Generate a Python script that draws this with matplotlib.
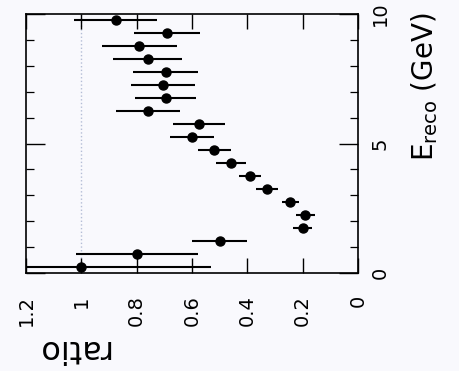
import numpy as np
import matplotlib
matplotlib.use("Agg")
import matplotlib.pyplot as plt
from matplotlib.ticker import MultipleLocator

# Reconstructed energy bin centres (GeV), 0.5 GeV wide bins
energy = [0.25, 0.75, 1.25, 1.75, 2.25, 2.75, 3.25, 3.75, 4.25, 4.75,
          5.25, 5.75, 6.25, 6.75, 7.25, 7.75, 8.25, 8.75, 9.25, 9.75]

# Ratio in each bin and its statistical error
ratio = [1.00, 0.80, 0.50, 0.20, 0.19, 0.245, 0.33, 0.39, 0.46, 0.52,
         0.60, 0.575, 0.76, 0.695, 0.705, 0.695, 0.76, 0.79, 0.69, 0.875]
ratio_err = [0.47, 0.22, 0.10, 0.035, 0.035, 0.03, 0.04, 0.04, 0.055, 0.06,
             0.078, 0.095, 0.115, 0.11, 0.115, 0.118, 0.125, 0.136, 0.12, 0.15]

ratio_ticks = [0, 0.2, 0.4, 0.6, 0.8, 1.0, 1.2]
ratio_labels = ["0", "0.2", "0.4", "0.6", "0.8", "1", "1.2"]
energy_ticks = [0, 5, 10]
energy_labels = ["0", "5", "10"]

W, H = 459, 371
fig = plt.figure(figsize=(W / 100, H / 100), dpi=100)
fig.patch.set_facecolor("#f9f9fd")

# Plot drawn turned on its side: energy runs up the right edge,
# ratio runs right-to-left along the bottom
ax = fig.add_axes([26 / W, (H - 273) / H, (358 - 26) / W, (273 - 14) / H])
ax.set_facecolor("#f9f9fd")

ax.axvline(1.0, ls=":", color="#b4bdd6", lw=1.0, zorder=1)

ax.errorbar(ratio, energy, xerr=ratio_err, fmt="o", color="k",
            ms=6.5, elinewidth=1.5, capsize=0, zorder=3)

ax.set_xlim(1.2, 0)
ax.set_ylim(0, 10)

ax.set_xticks(ratio_ticks)
ax.set_xticklabels(ratio_labels, rotation=90, fontsize=14)
ax.set_yticks(energy_ticks)
ax.set_yticklabels(energy_labels, rotation=90, fontsize=14, va="center")
ax.yaxis.set_minor_locator(MultipleLocator(1))

ax.yaxis.tick_right()
ax.tick_params(axis="x", which="major", direction="in", length=11, width=1.0,
               top=True, bottom=True, pad=16)
ax.tick_params(axis="y", which="major", direction="in", length=14, width=1.0,
               left=True, right=True, pad=9)
ax.tick_params(axis="y", which="minor", direction="in", length=6, width=0.9,
               left=True, right=True)

for s in ax.spines.values():
    s.set_linewidth(1.2)

# Axis titles, rotated with the plot
fig.text(72 / W, 1 - 348 / H, "ratio", rotation=180, ha="center", va="center",
         fontsize=23)
fig.text(425 / W, 1 - 12 / H, r"E$_{\rm reco}$ (GeV)", rotation=90,
         ha="center", va="top", fontsize=20)

fig.savefig("out.png", dpi=100, facecolor=fig.get_facecolor())
